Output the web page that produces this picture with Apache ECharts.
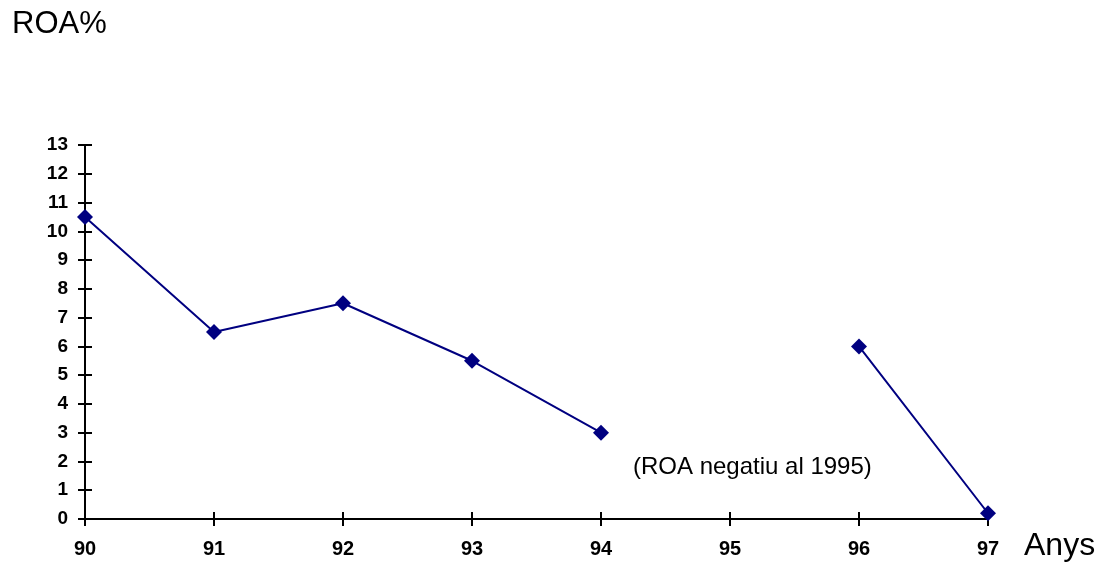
<!DOCTYPE html>
<html lang="ca">
<head>
    <meta charset="UTF-8">
    <title>ROA%</title>
    <script src="https://cdn.jsdelivr.net/npm/echarts@6/dist/echarts.min.js"></script>
    <style>
        *{
            margin: 0;
            padding: 0;
        }
        html, body{
            width: 100%;
            height: 100%;
            overflow: hidden;
            background: #fff;
        }
        .container{
            width: 1103px;
            height: 567px;
        }
    </style>
</head>
<body>
<div class="container"></div>
<script>
    let years = ['90', '91', '92', '93', '94', '95', '96', '97'];
    let roa = [10.5, 6.5, 7.5, 5.5, 3, null, 6, 0.2];
    let yMin = 0, yMax = 13, yStep = 1;

    let font = '"Liberation Sans", Arial, sans-serif';
    let container = document.querySelector('.container');
    let mycharts = echarts.init(container);

    let tickLine = {color: '#000', width: 2};

    let options = {
        animation: false,
        title: {
            text: 'ROA%',
            left: 7,
            top: 4,
            textStyle: {fontFamily: font, fontSize: 31, fontWeight: 'normal', color: '#000'}
        },
        grid: {left: 85, right: 115, top: 145, bottom: 48, containLabel: false},
        xAxis: [{
            type: 'category',
            data: years,
            boundaryGap: false,
            axisLine: {lineStyle: tickLine},
            axisTick: {show: true, length: 7, lineStyle: tickLine},
            axisLabel: {
                margin: 20,
                fontFamily: font, fontSize: 20, fontWeight: 'bold', color: '#000'
            },
            splitLine: {show: false}
        }, {
            type: 'category',
            data: years,
            boundaryGap: false,
            position: 'bottom',
            axisLine: {show: false},
            axisTick: {show: true, inside: true, length: 7, lineStyle: tickLine},
            axisLabel: {show: false},
            splitLine: {show: false}
        }],
        yAxis: [{
            type: 'value',
            min: yMin,
            max: yMax,
            interval: yStep,
            axisLine: {show: true, lineStyle: tickLine},
            axisTick: {show: true, length: 7, lineStyle: tickLine},
            axisLabel: {
                margin: 17,
                fontFamily: font, fontSize: 19, fontWeight: 'bold', color: '#000'
            },
            splitLine: {show: false}
        }, {
            type: 'value',
            min: yMin,
            max: yMax,
            interval: yStep,
            position: 'left',
            axisLine: {show: false},
            axisTick: {show: true, inside: true, length: 7, lineStyle: tickLine},
            axisLabel: {show: false},
            splitLine: {show: false}
        }],
        graphic: [{
            type: 'text',
            left: 1024,
            top: 530,
            style: {text: 'Anys', font: '32px ' + font, fill: '#000'}
        }, {
            type: 'text',
            left: 633,
            top: 455,
            style: {text: '(ROA negatiu al 1995)', font: '24px ' + font, fill: '#000'}
        }],
        series: [{
            name: 'ROA',
            type: 'line',
            data: roa,
            connectNulls: false,
            symbol: 'diamond',
            symbolSize: 16,
            showAllSymbol: true,
            lineStyle: {color: '#000080', width: 2},
            itemStyle: {color: '#000080'},
            z: 5
        }]
    };

    mycharts.setOption(options);
</script>
</body>
</html>
